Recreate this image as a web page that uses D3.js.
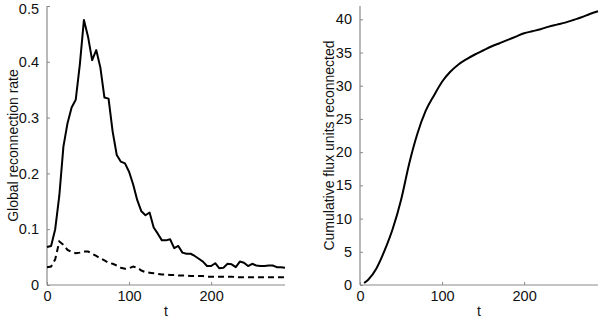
<!DOCTYPE html>
<html><head><meta charset="utf-8">
<script src="https://cdn.jsdelivr.net/npm/d3@7"></script>
<style>
body{margin:0;background:#fff;}
svg{display:block;}
text{font-family:"Liberation Sans",Arial,sans-serif;fill:#111;}
</style></head>
<body><svg id="c" width="600" height="319"></svg>
<script>
// time grid for the left panel (every 5 units)
const tRate = d3.range(0, 291, 5);
const rateSolid = [0.068,0.070,0.100,0.160,0.248,0.290,0.318,0.332,0.395,0.475,
  0.445,0.403,0.421,0.390,0.336,0.334,0.275,0.233,0.221,0.218,
  0.203,0.180,0.152,0.132,0.125,0.130,0.103,0.092,0.080,0.080,
  0.082,0.066,0.070,0.058,0.056,0.056,0.052,0.047,0.042,0.034,
  0.034,0.039,0.030,0.031,0.038,0.037,0.032,0.042,0.040,0.034,
  0.038,0.035,0.034,0.034,0.035,0.035,0.032,0.032,0.031];
const rateDashed = [0.032,0.033,0.046,0.078,0.072,0.063,0.059,0.057,0.058,0.060,
  0.060,0.056,0.052,0.048,0.044,0.040,0.038,0.035,0.031,0.029,
  0.030,0.033,0.031,0.026,0.023,0.022,0.021,0.020,0.019,0.019,
  0.018,0.018,0.017,0.017,0.017,0.016,0.016,0.016,0.016,0.015,
  0.015,0.015,0.015,0.015,0.015,0.015,0.014,0.014,0.014,0.014,
  0.014,0.014,0.014,0.014,0.014,0.014,0.014,0.014,0.014];
// right panel
const tCum = [5,10,20,30,40,50,60,70,80,90,100,110,120,130,140,150,160,170,180,190,200,210,220,230,240,250,260,270,280,290];
const cumFlux = [0.3,0.8,2.5,5.2,8.5,12.8,18.3,22.8,26.2,28.5,30.6,32.1,33.2,34.0,34.7,35.3,35.9,36.4,36.9,37.4,37.9,38.2,38.5,38.9,39.2,39.5,39.9,40.3,40.8,41.2];

const xTicks = [0,100,200];
const yTicksLeft = [0,0.1,0.2,0.3,0.4,0.5];
const yTicksRight = [0,5,10,15,20,25,30,35,40];

const svg = d3.select("#c");
const axisColor = "#8a8a8a";

function panel(x0, x1, yDomain, yTicks, yFmt, ylabel, ylabelX) {
  const top = 6, bottom = 285;
  const x = d3.scaleLinear().domain([0, 290]).range([x0, x1]);
  const y = d3.scaleLinear().domain(yDomain).range([bottom, top]);
  const g = svg.append("g");
  const ax = g.append("g").attr("transform", `translate(0,${bottom})`)
    .call(d3.axisBottom(x).tickValues(xTicks).tickSize(-3).tickPadding(6).tickFormat(d3.format("d")));
  const ay = g.append("g").attr("transform", `translate(${x0},0)`)
    .call(d3.axisLeft(y).tickValues(yTicks).tickSize(-3).tickPadding(8).tickFormat(yFmt));
  [ax, ay].forEach(a => {
    a.select(".domain").attr("stroke", axisColor).attr("stroke-width", 1.2);
    a.selectAll(".tick line").attr("stroke", axisColor);
    a.selectAll("text").style("font-size", "14.5px").attr("fill", "#111").style("font-family", '"Liberation Sans",Arial,sans-serif');
  });
  ax.select(".domain").attr("d", `M${x0},0H${x1}`);
  ay.select(".domain").attr("d", `M0,${bottom}V${top}`);
  g.append("text").attr("x", (x0 + x1) / 2).attr("y", 316).attr("text-anchor", "middle")
    .style("font-size", "14px").text("t");
  g.append("text").attr("transform", `translate(${ylabelX},${(top + bottom) / 2}) rotate(-90)`)
    .attr("text-anchor", "middle").attr("dy", "0.35em").style("font-size", "14px").text(ylabel);
  return {x, y, g};
}

const L = panel(47, 285, [0, 0.5], yTicksLeft, d => d === 0 ? "0" : d3.format(".1f")(d), "Global reconnection rate", 13);
// keep top tick label inside the frame
L.g.selectAll(".tick text").filter(d => d === 0.5).attr("dy", "0.5em");
const lineL = d3.line().x((d, i) => L.x(tRate[i])).y(d => L.y(d));
L.g.append("path").attr("d", lineL(rateSolid)).attr("fill", "none").attr("stroke", "#000").attr("stroke-width", 2).attr("stroke-linejoin", "round");
L.g.append("path").attr("d", lineL(rateDashed)).attr("fill", "none").attr("stroke", "#000").attr("stroke-width", 2).attr("stroke-dasharray", "6,4");

const R = panel(360, 598, [0, 42], yTicksRight, d3.format("d"), "Cumulative flux units reconnected", 329);
const lineR = d3.line().curve(d3.curveMonotoneX).x((d, i) => R.x(tCum[i])).y(d => R.y(d));
R.g.append("path").attr("d", lineR(cumFlux)).attr("fill", "none").attr("stroke", "#000").attr("stroke-width", 2);
</script></body></html>
